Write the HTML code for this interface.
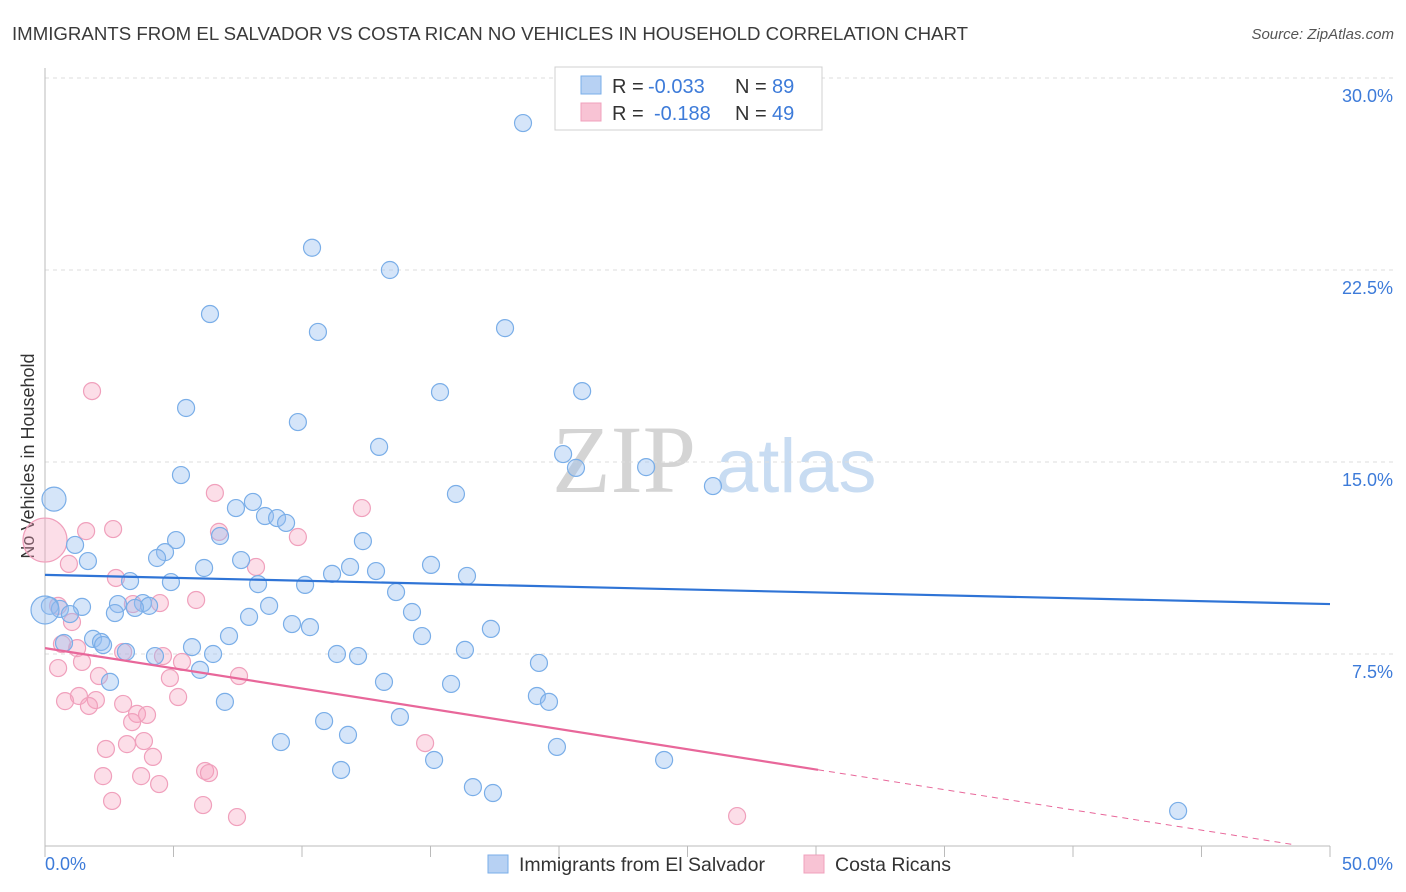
<!DOCTYPE html>
<html><head><meta charset="utf-8"><style>
body{margin:0;background:#fff;font-family:"Liberation Sans",sans-serif;}
svg{display:block}
</style></head><body>
<svg id="c" width="1406" height="892" xmlns="http://www.w3.org/2000/svg">
<text x="12" y="40" font-size="18" fill="#3a3a3a" textLength="956" lengthAdjust="spacingAndGlyphs">IMMIGRANTS FROM EL SALVADOR VS COSTA RICAN NO VEHICLES IN HOUSEHOLD CORRELATION CHART</text>
<text x="1394" y="39" font-size="15" font-style="italic" fill="#555" text-anchor="end">Source: ZipAtlas.com</text>
<text transform="translate(34,456) rotate(-90)" font-size="18" fill="#333" text-anchor="middle">No Vehicles in Household</text>
<g><text x="552" y="492" font-size="96" font-family="Liberation Serif" fill="#d4d4d4">ZIP</text><text x="716" y="492" font-size="76" fill="#c8dcf2">atlas</text></g>
<g id="grid"></g><g id="pts"></g><g id="trend"></g>
<g>
<rect x="555" y="67" width="267" height="63" fill="#fff" stroke="#d0d0d0"/>
<rect x="581" y="76" width="20" height="18" fill="#b7d1f3" stroke="#7aaee8"/>
<rect x="581" y="103" width="20" height="18" fill="#f8c3d4" stroke="#f0a0bc"/>
<text y="93" font-size="20" fill="#333"><tspan x="612">R =</tspan><tspan x="648" fill="#3d7bd9">-0.033</tspan><tspan x="735">N =</tspan><tspan x="772" fill="#3d7bd9">89</tspan></text>
<text y="120" font-size="20" fill="#333"><tspan x="612">R =</tspan><tspan x="654" fill="#3d7bd9">-0.188</tspan><tspan x="735">N =</tspan><tspan x="772" fill="#3d7bd9">49</tspan></text>
</g>
<g>
<rect x="488" y="855" width="20" height="18" fill="#b7d1f3" stroke="#7aaee8"/>
<text x="519" y="871" font-size="19.5" fill="#333">Immigrants from El Salvador</text>
<rect x="804" y="855" width="20" height="18" fill="#f8c3d4" stroke="#f0a0bc"/>
<text x="835" y="871" font-size="19.5" fill="#333">Costa Ricans</text>
</g>
</svg>
<script>
const blueX=[18.6,10.39,13.42,6.42,10.62,17.9,20.9,15.37,5.49,9.84,13.0,20.16,20.66,23.39,5.29,25.99,15.99,0.35,8.09,7.43,8.56,9.03,9.38,6.81,12.37,1.17,5.1,4.67,4.36,1.67,7.63,6.19,11.87,12.88,15.02,16.42,11.17,3.31,4.9,8.29,10.12,13.66,0.19,0.58,1.44,2.84,3.81,4.05,3.5,2.72,0.97,8.72,14.28,7.94,9.61,10.31,17.35,7.16,14.67,1.87,0.74,2.18,2.26,5.72,3.15,4.28,6.54,11.36,12.18,16.34,19.22,6.03,2.53,13.19,15.8,19.14,19.61,7.0,13.81,10.86,11.79,9.18,19.92,15.14,24.09,11.52,16.65,17.43,44.09,0];
const blueY=[28.24,23.37,22.5,20.78,20.08,20.23,17.77,17.73,17.11,16.56,15.59,15.31,14.77,14.8,14.49,14.06,13.75,13.55,13.44,13.2,12.89,12.81,12.62,12.11,11.91,11.76,11.95,11.48,11.25,11.13,11.17,10.86,10.9,10.74,10.98,10.55,10.63,10.35,10.31,10.23,10.2,9.92,9.38,9.26,9.34,9.45,9.49,9.38,9.3,9.1,9.06,9.38,9.14,8.95,8.67,8.55,8.48,8.2,8.2,8.09,7.93,7.97,7.85,7.77,7.58,7.42,7.5,7.5,7.42,7.66,7.15,6.88,6.41,6.41,6.33,5.86,5.63,5.63,5.04,4.88,4.34,4.06,3.87,3.36,3.36,2.97,2.3,2.07,1.37,9.22];
const pinkX=[1.83,6.61,12.33,6.77,2.65,1.6,9.84,0,8.21,0.93,2.76,3.42,5.88,4.47,0.51,1.05,0.66,3.04,1.25,4.59,5.33,7.55,0.51,1.44,2.1,4.86,1.32,5.18,1.98,0.78,1.71,3.04,3.58,3.97,3.39,3.19,3.85,2.37,4.2,14.79,6.23,2.26,3.74,6.38,4.44,2.61,6.15,7.47,26.93];
const pinkY=[17.77,13.79,13.2,12.27,12.38,12.3,12.07,11.95,10.9,11.02,10.47,9.45,9.61,9.49,9.38,8.75,7.89,7.58,7.73,7.42,7.19,6.64,6.95,7.19,6.64,6.56,5.86,5.82,5.7,5.66,5.47,5.55,5.16,5.12,4.84,3.98,4.1,3.79,3.48,4.02,2.93,2.73,2.73,2.85,2.42,1.76,1.6,1.13,1.17];
const blueTrend=[10.59,9.45];
const pinkTrend=[7.73,-0.17];
const pinkSolidEnd=30.08;
const yTicks=[7.5,15,22.5,30];
const yTickLabels=["7.5%","15.0%","22.5%","30.0%"];
const NS="http://www.w3.org/2000/svg";
const X=v=>45+v*25.7, Y=v=>846-v*25.6;
function mk(t,a,p){const e=document.createElementNS(NS,t);for(const k in a)e.setAttribute(k,a[k]);p.appendChild(e);return e;}
const g=document.getElementById('grid');
yTicks.forEach((t,i)=>{
 const l=mk('line',{x1:45,x2:1393,y1:Y(t),y2:Y(t),stroke:'#dedede','stroke-dasharray':'4,4'},g);
 
 
 const tx=mk('text',{x:1393,y:Y(t)+24,'font-size':18,fill:'#3d7bd9','text-anchor':'end'},g);
 tx.textContent=yTickLabels[i];
 
 
});
const ax=mk('line',{x1:45,x2:1330,y1:846,y2:846,stroke:'#bbb'},g);


const ay=mk('line',{x1:45,x2:45,y1:68,y2:846,stroke:'#bbb'},g);


for(let i=0;i<=10;i++){const t=mk('line',{x1:X(i*5),x2:X(i*5),y1:846,y2:857,stroke:'#bbb'},g);
 
 }
const xl0=mk('text',{x:45,y:870,'font-size':18,fill:'#3d7bd9'},g);xl0.textContent='0.0%';


const xl1=mk('text',{x:1393,y:870,'font-size':18,fill:'#3d7bd9','text-anchor':'end'},g);xl1.textContent='50.0%';


const p=document.getElementById('pts');
pinkX.forEach((x,i)=>{const r=i===7?22:8.5;const c=mk('circle',{cx:X(x),cy:Y(pinkY[i]),r:r,fill:'rgba(245,160,190,0.35)',stroke:'#f0a0bc','stroke-width':1.2},p);
 
 });
blueX.forEach((x,i)=>{const r=i===89?14:(i===17?12:8.5);const c=mk('circle',{cx:X(x),cy:Y(blueY[i]),r:r,fill:'rgba(150,190,240,0.4)',stroke:'#7aaee8','stroke-width':1.2},p);
 
 });
const tr=document.getElementById('trend');
const bl=mk('line',{x1:X(0),y1:Y(blueTrend[0]),x2:X(50),y2:Y(blueTrend[1]),stroke:'#2f74d6','stroke-width':2.2},tr);


const pv=x=>pinkTrend[0]+(pinkTrend[1]-pinkTrend[0])*x/50;
const pl=mk('line',{x1:X(0),y1:Y(pinkTrend[0]),x2:X(pinkSolidEnd),y2:Y(pv(pinkSolidEnd)),stroke:'#e8679a','stroke-width':2.2},tr);


const pd=mk('line',{x1:X(pinkSolidEnd),y1:Y(pv(pinkSolidEnd)),x2:X(48.5),y2:Y(pv(48.5)),stroke:'#e8679a','stroke-width':1,'stroke-dasharray':'6,5'},tr);


</script>
</body></html>
